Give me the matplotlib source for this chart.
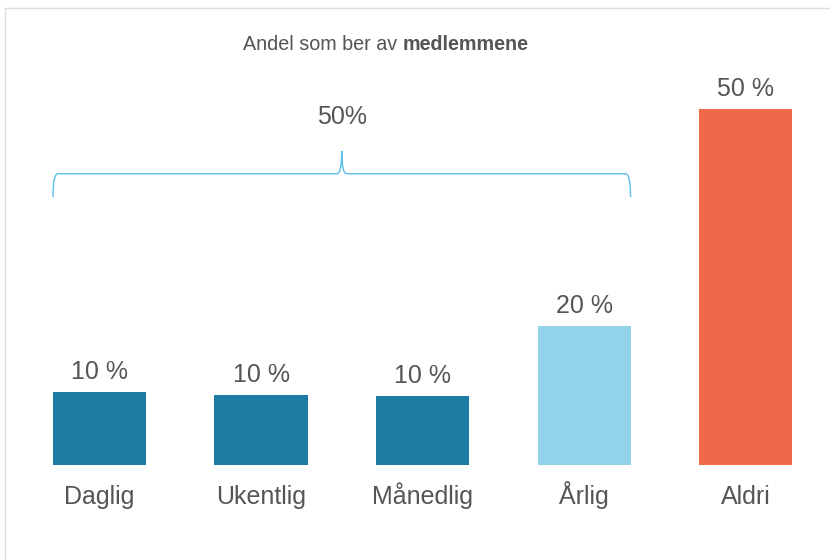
import matplotlib.pyplot as plt
from matplotlib.path import Path
from matplotlib.patches import PathPatch
from matplotlib.lines import Line2D

plt.rcParams['font.family'] = ['Liberation Sans', 'DejaVu Sans']

categories = ['Daglig', 'Ukentlig', 'Månedlig', 'Årlig', 'Aldri']
shares = [10.2, 9.8, 9.7, 19.5, 50.0]
colors = ['#1c7ca3', '#1c7ca3', '#1c7ca3', '#93d3ea', '#f0674a']
grey = '#555555'

fig = plt.figure(figsize=(8.3, 5.6), dpi=100)
fig.patch.set_facecolor('white')

# thin frame along the top and left edges
fig.add_artist(Line2D([5/830, 1], [1 - 8/560, 1 - 8/560], color='#dddddd', lw=1))
fig.add_artist(Line2D([5/830, 5/830], [0, 1 - 8/560], color='#dddddd', lw=1))

ax = fig.add_axes([0, 95/560, 1, 465/560])
x = range(len(categories))
width = 0.576
bars = ax.bar(x, shares, width=width, color=colors)
ax.set_xlim(-0.616, 4.523)
ax.set_ylim(0, 65.3)

for b, v in zip(bars, shares):
    ax.annotate(f'{round(v)} %', (b.get_x() + b.get_width() / 2, v),
                xytext=(0, 6), textcoords='offset points',
                ha='center', va='bottom', fontsize=18, color=grey)

ax.set_xticks(list(x))
ax.set_xticklabels(categories, fontsize=18, color=grey, va='baseline')
ax.tick_params(axis='x', length=0, pad=28)
ax.set_yticks([])
for s in ax.spines.values():
    s.set_visible(False)

# curly brace over the first four bars
x0 = 0 - width / 2
x1 = 3 + width / 2
xc = (x0 + x1) / 2
y_tip, y_mid, y_peak = 37.6, 40.9, 44.1
dx = 0.03
verts = [(x0, y_tip), (x0, y_mid), (x0 + dx, y_mid),
         (xc - dx, y_mid), (xc, y_mid), (xc, y_peak),
         (xc, y_mid), (xc + dx, y_mid),
         (x1 - dx, y_mid), (x1, y_mid), (x1, y_tip)]
codes = [Path.MOVETO, Path.CURVE3, Path.CURVE3,
         Path.LINETO, Path.CURVE3, Path.CURVE3,
         Path.CURVE3, Path.CURVE3,
         Path.LINETO, Path.CURVE3, Path.CURVE3]
ax.add_patch(PathPatch(Path(verts, codes), fill=False, edgecolor='#5bbfe6', lw=1))

group_total = sum(round(v) for v in shares[:4])
ax.text(xc, 48.9, f'{group_total}%', ha='center', va='center', fontsize=18, color=grey)

# title with a bold tail
t1 = fig.text(243/830, 1 - 44/560, 'Andel som ber av ', fontsize=14.2,
              color=grey, ha='left', va='center')
ax.annotate('medlemmene', xy=(1, 0.5), xycoords=t1, ha='left', va='center',
            fontsize=14.2, color=grey, fontweight='bold')

fig.savefig('out.png', dpi=100, facecolor='white')
